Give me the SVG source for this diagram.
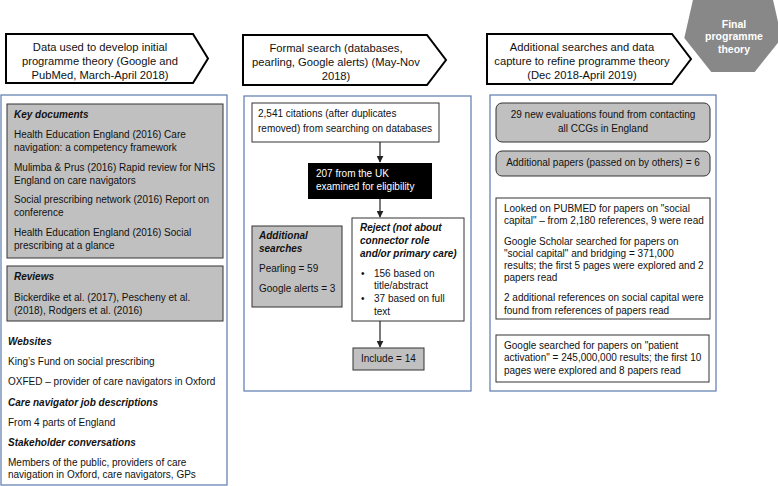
<svg xmlns="http://www.w3.org/2000/svg" width="778" height="486" viewBox="0 0 778 486">
<defs>
<style>
text{font-family:"Liberation Sans",Arial,sans-serif;font-size:10px;fill:#111}
.h{font-size:11.2px;text-anchor:middle}
.bi{font-weight:bold;font-style:italic}
.w{fill:#fff}
.c{text-anchor:middle}
.hdr{fill:#fff;stroke:#000;stroke-width:2}
.panel{fill:#fff;stroke:#5b7bb0;stroke-width:1.2}
.g{fill:#c0c0c0;stroke:#333;stroke-width:1}
.wb{fill:#fff;stroke:#333;stroke-width:1}
.conn{stroke:#222;stroke-width:1.2;fill:none}
</style>
<marker id="ah" viewBox="0 0 10 10" refX="9" refY="5" markerWidth="7" markerHeight="7" orient="auto" markerUnits="userSpaceOnUse"><path d="M0,0 L10,5 L0,10 z" fill="#222"/></marker>
</defs>
<rect width="778" height="486" fill="#fff"/>

<g id="hdr1">
<polygon class="hdr" points="6,34 193,34 208,58.5 193,83 6,83"/>
<text class="h" x="100" y="51">Data used to develop initial</text>
<text class="h" x="100" y="65">programme theory (Google and</text>
<text class="h" x="100" y="79">PubMed, March-April 2018)</text>
</g>
<g id="hdr2">
<polygon class="hdr" points="243,35 427,35 446,60 427,85 243,85"/>
<text class="h" x="336" y="52">Formal search (databases,</text>
<text class="h" x="336" y="66">pearling, Google alerts) (May-Nov</text>
<text class="h" x="336" y="80">2018)</text>
</g>
<g id="hdr3">
<polygon class="hdr" points="487,34 672,34 691,59 672,84 487,84"/>
<text class="h" x="582" y="51">Additional searches and data</text>
<text class="h" x="582" y="65">capture to refine programme theory</text>
<text class="h" x="582" y="79">(Dec 2018-April 2019)</text>
</g>
<g id="final">
<polygon fill="#888" points="733,-23 772.1,-4.2 781.7,38.1 754.7,72 711.3,72 684.3,38.1 693.9,-4.2"/>
<text class="w c" style="font-weight:bold;font-size:10.5px" x="734" y="27.5">Final</text>
<text class="w c" style="font-weight:bold;font-size:10.5px" x="734" y="40">programme</text>
<text class="w c" style="font-weight:bold;font-size:10.5px" x="734" y="52.5">theory</text>
</g>

<g id="panel1">
<rect class="panel" x="1" y="95" width="226" height="390"/>
<g id="keydocs">
<rect class="g" x="7" y="104" width="216" height="154"/>
<text class="bi" x="14" y="118">Key documents</text>
<text x="14" y="137.5">Health Education England (2016) Care</text>
<text x="14" y="150.5">navigation: a competency framework</text>
<text x="14" y="170.5">Mulimba &amp; Prus (2016) Rapid review for NHS</text>
<text x="14" y="183.5">England on care navigators</text>
<text x="14" y="202.5">Social prescribing network (2016) Report on</text>
<text x="14" y="215.5">conference</text>
<text x="14" y="235.5">Health Education England (2016) Social</text>
<text x="14" y="248.5">prescribing at a glance</text>
</g>
<g id="reviews">
<rect class="g" x="7" y="266" width="216" height="55"/>
<text class="bi" x="14" y="279.5">Reviews</text>
<text x="14" y="300.5">Bickerdike et al. (2017), Pescheny et al.</text>
<text x="14" y="313.5">(2018), Rodgers et al. (2016)</text>
</g>
<g id="other">
<text class="bi" x="8" y="344.5">Websites</text>
<text x="8" y="364.5">King’s Fund on social prescribing</text>
<text x="8" y="384.5">OXFED – provider of care navigators in Oxford</text>
<text class="bi" x="8" y="405.5">Care navigator job descriptions</text>
<text x="8" y="425.5">From 4 parts of England</text>
<text class="bi" x="8" y="445.5">Stakeholder conversations</text>
<text x="8" y="465.5">Members of the public, providers of care</text>
<text x="8" y="477.5">navigation in Oxford, care navigators, GPs</text>
</g>
</g>

<g id="panel2">
<rect class="panel" x="244" y="96" width="227" height="295"/>
</g>
<g id="citations">
<rect class="wb" x="252" y="103" width="187" height="39"/>
<text x="258" y="116.5">2,541 citations (after duplicates</text>
<text x="258" y="131.5">removed) from searching on databases</text>
</g>
<g id="uk207">
<rect x="308" y="163" width="124" height="36" fill="#000"/>
<text class="w" x="316" y="176.5">207 from the UK</text>
<text class="w" x="316" y="189.5">examined for eligibility</text>
</g>
<g id="additional">
<rect class="g" x="252" y="226" width="90" height="81"/>
<text class="bi" x="259" y="238.5">Additional</text>
<text class="bi" x="259" y="251.5">searches</text>
<text x="259" y="271.5">Pearling = 59</text>
<text x="259" y="291.5">Google alerts = 3</text>
</g>
<g id="reject">
<rect class="wb" x="352" y="218" width="112" height="103"/>
<text class="bi" x="360" y="230.5">Reject (not about</text>
<text class="bi" x="360" y="243.5">connector role</text>
<text class="bi" x="360" y="256.5">and/or primary care)</text>
<text x="361" y="276.5">•</text>
<text x="374" y="276.5">156 based on</text>
<text x="374" y="288.5">title/abstract</text>
<text x="361" y="301.5">•</text>
<text x="374" y="301.5">37 based on full</text>
<text x="374" y="314.5">text</text>
</g>
<g id="include">
<rect class="g" x="353" y="348" width="71" height="22"/>
<text x="361" y="362">Include = 14</text>
</g>

<g id="panel3">
<rect class="panel" x="490" y="95" width="226" height="296"/>
</g>
<g id="ccgs">
<rect class="g" x="496" y="103" width="214" height="39" rx="6"/>
<text class="c" x="603" y="117.5">29 new evaluations found from contacting</text>
<text class="c" x="603" y="131.5">all CCGs in England</text>
</g>
<g id="papers">
<rect class="g" x="496" y="151" width="214" height="25" rx="6"/>
<text class="c" x="603" y="166">Additional papers (passed on by others) = 6</text>
</g>
<g id="socialcapital">
<rect class="wb" x="496" y="198" width="214" height="121"/>
<text x="504" y="212">Looked on PUBMED for papers on "social</text>
<text x="504" y="224">capital" – from 2,180 references, 9 were read</text>
<text x="504" y="245">Google Scholar searched for papers on</text>
<text x="504" y="257">"social capital" and bridging = 371,000</text>
<text x="504" y="269">results; the first 5 pages were explored and 2</text>
<text x="504" y="281">papers read</text>
<text x="504" y="301">2 additional references on social capital were</text>
<text x="504" y="314">found from references of papers read</text>
</g>
<g id="activation">
<rect class="wb" x="496" y="335" width="213" height="47"/>
<text x="504" y="349">Google searched for papers on "patient</text>
<text x="504" y="361">activation" = 245,000,000 results; the first 10</text>
<text x="504" y="374">pages were explored and 8 papers read</text>
</g>

<g id="connectors">
<line class="conn" x1="380" y1="142" x2="380" y2="162" marker-end="url(#ah)"/>
<line class="conn" x1="380" y1="199" x2="380" y2="217" marker-end="url(#ah)"/>
<line class="conn" x1="380" y1="321" x2="380" y2="347" marker-end="url(#ah)"/>
</g>
</svg>
